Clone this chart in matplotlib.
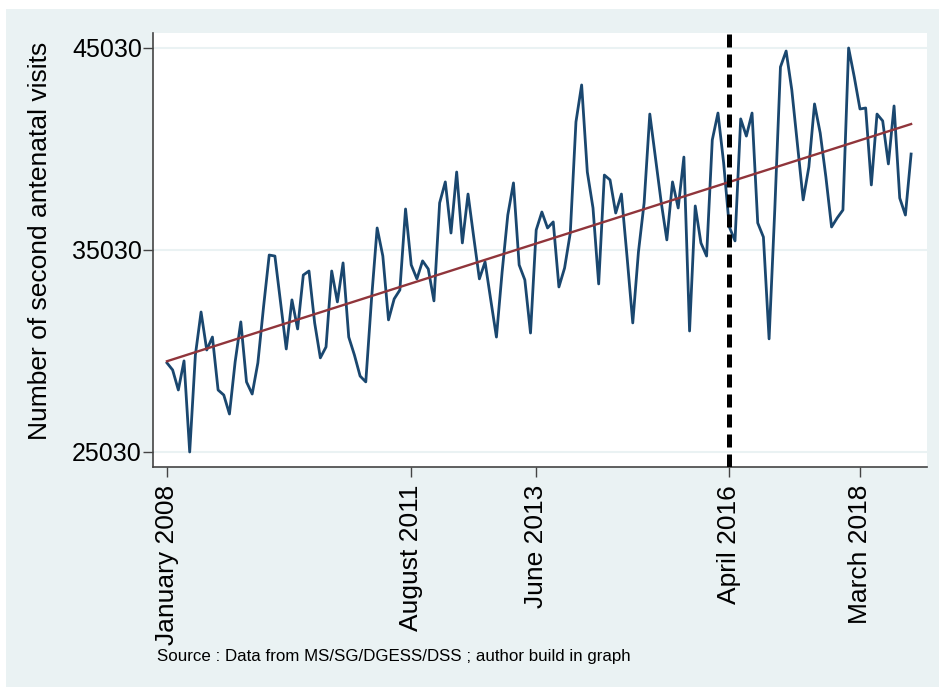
import numpy as np
import matplotlib
matplotlib.use("Agg")
import matplotlib.pyplot as plt
from matplotlib.patches import Rectangle

plt.rcParams['font.family'] = ['Liberation Sans', 'DejaVu Sans']

# monthly counts, January 2008 .. December 2018
visits = [
    29440, 29090, 28100, 29540, 25030, 29830, 31960, 30080, 30720, 28100, 27850, 26910,
    29490, 31470, 28500, 27900, 29440, 32210, 34780, 34730, 32410, 30130, 32560, 31120,
    33790, 33990, 31420, 29690, 30230, 33990, 32460, 34390, 30720, 29830, 28790, 28500,
    32560, 36120, 34730, 31570, 32610, 33050, 37060, 34290, 33600, 34490, 34090, 32510,
    37360, 38400, 35870, 38890, 35380, 37800, 35670, 33600, 34440, 32560, 30720, 33940,
    36760, 38350, 34290, 33550, 30920, 36020, 36910, 36120, 36420, 33200, 34140, 35870,
    41370, 43200, 38890, 37110, 33350, 38740, 38500, 36860, 37800, 34680, 31420, 34930,
    37360, 41760, 39590, 37410, 35530, 38400, 37110, 39630, 31020, 37210, 35380, 34730,
    40480, 41810, 39340, 36170, 35480, 41520, 40670, 41810, 36370, 35670, 30630, 37010,
    44090, 44880, 42950, 40230, 37510, 39140, 42260, 40820, 38640, 36170, 36620, 37010,
    45030, 43590, 42010, 42060, 38250, 41760, 41420, 39290, 42160, 37600, 36760, 39780,
]
months = np.arange(len(visits))

tick_pos = [0, 43, 65, 99, 122]
tick_labels = ["January 2008", "August 2011", "June 2013", "April 2016", "March 2018"]
y_ticks = [25030, 35030, 45030]
break_month = 99  # April 2016

fig = plt.figure(figsize=(9.39, 6.92), dpi=100, facecolor='white')
fig.patches.append(Rectangle((6 / 939, 0.007), 1 - 6 / 939, 1 - 9 / 692 - 0.007,
                             transform=fig.transFigure, facecolor='#EAF2F3',
                             edgecolor='none', zorder=-10))

ax = fig.add_axes([153 / 939, 1 - 467 / 692, (927 - 153) / 939, (467 - 33) / 692])
ax.set_facecolor('white')

for yt in y_ticks:
    ax.axhline(yt, color='#EAF2F3', lw=1.5, zorder=1)

ax.plot(months, visits, color='#1A476F', lw=2.0, zorder=3)

slope, inter = np.polyfit(months, visits, 1)
ax.plot(months, inter + slope * months, color='#90353B', lw=1.7, zorder=4)

ax.axvline(break_month, color='black', lw=3.6, dashes=(2.6, 1.4), zorder=5)

ax.set_xlim(-2.46, 133.8)
ax.set_ylim(24287, 45772)

ax.set_xticks(tick_pos)
ax.set_xticklabels(tick_labels, rotation=90, fontsize=19)
ax.set_yticks(y_ticks)
ax.set_yticklabels([str(v) for v in y_ticks], fontsize=18)
ax.tick_params(axis='both', direction='out', length=7, width=1, color='#444444', pad=1)
ax.tick_params(axis='x', pad=6)

for side in ['top', 'right']:
    ax.spines[side].set_visible(False)
for side in ['left', 'bottom']:
    ax.spines[side].set_color('#444444')
    ax.spines[side].set_linewidth(1.2)

fig.text(40 / 939, 1 - 241 / 692, "Number of second antenatal visits", rotation=90,
         ha='center', va='center', fontsize=19)
fig.text(157 / 939, 1 - 657 / 692, "Source : Data from MS/SG/DGESS/DSS ; author build in graph",
         ha='left', va='center', fontsize=12.2)

fig.savefig('out.png', dpi=100, facecolor=fig.get_facecolor())
